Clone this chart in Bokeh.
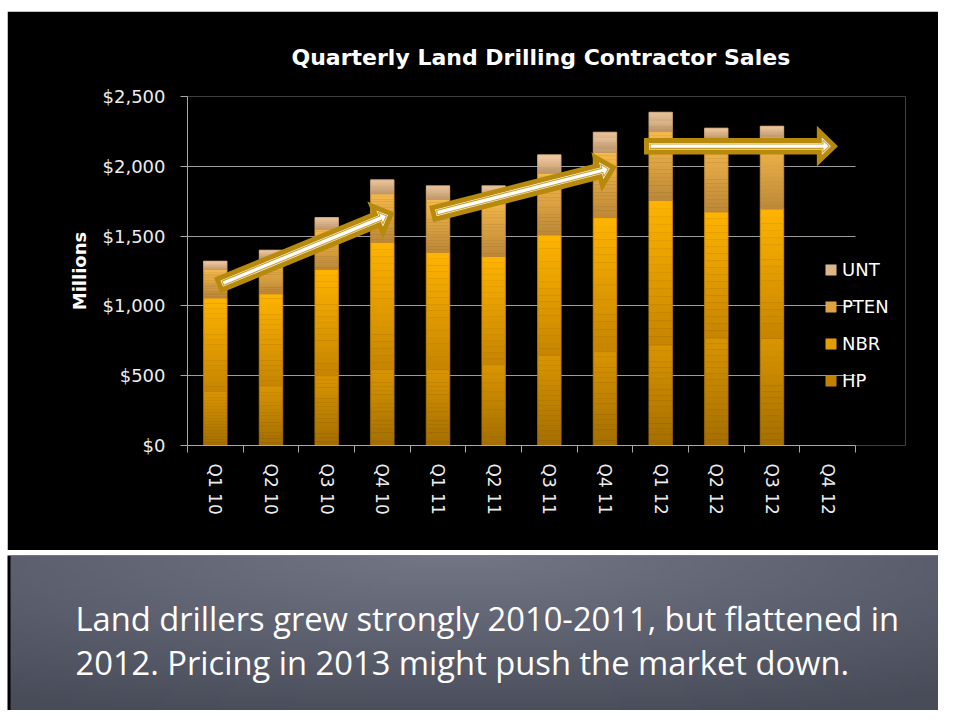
import numpy as np
from bokeh.plotting import figure
from bokeh.models import (Range1d, FixedTicker, NumeralTickFormatter, Legend, LegendItem,
                          ColumnDataSource, Title, BoxAnnotation, Spacer)
from bokeh.layouts import column, row
from bokeh.embed import file_html
from bokeh.resources import INLINE
from bokeh.core.properties import value

# ---------------- data ----------------
quarters = ["Q1 10", "Q2 10", "Q3 10", "Q4 10", "Q1 11", "Q2 11", "Q3 11", "Q4 11",
            "Q1 12", "Q2 12", "Q3 12", "Q4 12"]
series_names = ["HP", "NBR", "PTEN", "UNT"]
hp   = [387, 428, 501, 544, 544, 580, 645, 673, 721, 771, 769]
nbr  = [670, 659, 760, 912, 841, 774, 864, 960, 1034, 903, 926]
pten = [204, 253, 286, 347, 379, 416, 441, 468, 494, 526, 515]
unt  = [59, 59, 86, 100, 96, 90, 132, 143, 138, 73, 77]
y_ticks = [0, 500, 1000, 1500, 2000, 2500]

# trend arrows: (start quarter position, start value, end quarter position, end value)
arrow_x0 = [0.575, 4.42, 8.245]
arrow_y0 = [1153, 1662, 2144]
arrow_x1 = [3.66, 7.65, 11.62]
arrow_y1 = [1660, 1991, 2144]

title_text = "Quarterly Land Drilling Contractor Sales"
caption_lines = ["Land drillers grew strongly 2010-2011, but flattened in",
                 "2012.  Pricing in 2013 might push the market down."]

# ---------------- styling ----------------
FONT = "DejaVu Sans"
CFONT = "Open Sans"
W = 931
H1 = 539
H2 = 155
ML, MR, MT, MB = 180, 33, 85, 105
AXIS_W = 668                      # pixel width of the 12 quarters
FW = W - ML - MR
FH = H1 - MT - MB
NQ = len(quarters)
PXX = AXIS_W / NQ
PXY = FH / 2500.0
X_END = FW / PXX

grad = {  # (top colour, bottom colour)
    "HP":   ((0xDA, 0x95, 0x00), (0xA3, 0x6E, 0x00)),
    "NBR":  ((0xFF, 0xB4, 0x00), (0xC5, 0x84, 0x00)),
    "PTEN": ((0xF8, 0xBA, 0x4C), (0xBC, 0x88, 0x38)),
    "UNT":  ((0xF3, 0xCB, 0xA3), (0xC4, 0x9C, 0x6E)),
}

p = figure(width=W, height=H1, output_backend="svg", toolbar_location=None,
           x_range=Range1d(0, X_END), y_range=Range1d(0, 2500),
           background_fill_color="black", border_fill_color="black",
           outline_line_color="black", outline_line_alpha=0, outline_line_width=0,
           min_border_left=ML, min_border_right=MR, min_border_top=MT, min_border_bottom=MB)
p.title = Title(text=title_text, align="left", offset=104, standoff=53,
                text_color="white", text_font=FONT, text_font_size="22px", text_font_style="bold")

# grid lines only across the 12 quarters (legend area stays clear)
try:
    p.ygrid.cross_bounds = (0, NQ)
except Exception:
    p.add_layout(BoxAnnotation(left=NQ, fill_color="black", fill_alpha=1,
                               line_color="black", line_alpha=1, line_width=3, level="underlay"))

n = len(hp)
xs = np.arange(n) + 0.5
base = np.zeros(n)
N = 18
legend_items = []
for name, vals in zip(series_names, [hp, nbr, pten, unt]):
    vals = np.array(vals, dtype=float)
    top_c, bot_c = grad[name]
    rx, rb, rt, rc = [], [], [], []
    for k in range(N):
        f = (k + 0.5) / N
        c = tuple(int(round(bot_c[i] + (top_c[i] - bot_c[i]) * f)) for i in range(3))
        col = "#%02x%02x%02x" % c
        for j in range(n):
            rx.append(xs[j])
            rb.append(base[j] + vals[j] * k / N)
            rt.append(base[j] + vals[j] * (k + 1) / N)
            rc.append(col)
    src = ColumnDataSource(dict(x=rx, bottom=rb, top=rt, color=rc))
    r = p.vbar(x="x", bottom="bottom", top="top", width=0.42, source=src,
               fill_color="color", line_color="color", line_width=0.6)
    p.vbar(x=xs, bottom=base, top=base + vals, width=0.42, fill_alpha=0,
           line_color="#%02x%02x%02x" % bot_c, line_alpha=0.5, line_width=1)
    legend_items.append(LegendItem(label=name, renderers=[r], index=(N // 2) * n))
    base = base + vals

# arrows
def arrow_poly(tx, ty, hx, hy, s, h, L):
    dx, dy = hx - tx, hy - ty
    d = np.hypot(dx, dy)
    ux, uy = dx / d, dy / d
    nx, ny = -uy, ux
    bx, by = hx - ux * L, hy - uy * L
    return [(tx + nx * s, ty + ny * s), (bx + nx * s, by + ny * s), (bx + nx * h, by + ny * h),
            (hx, hy), (bx - nx * h, by - ny * h), (bx - nx * s, by - ny * s), (tx - nx * s, ty - ny * s)]

def inset(pts, dist):
    pts = list(pts)
    area = sum(pts[i][0] * pts[(i + 1) % len(pts)][1] - pts[(i + 1) % len(pts)][0] * pts[i][1]
               for i in range(len(pts)))
    if area < 0:
        pts = pts[::-1]
    m = len(pts)
    lines = []
    for i in range(m):
        x0, y0 = pts[i]
        x1, y1 = pts[(i + 1) % m]
        ex, ey = x1 - x0, y1 - y0
        l = np.hypot(ex, ey)
        inx, iny = -ey / l, ex / l
        lines.append(((x0 + inx * dist, y0 + iny * dist), (ex, ey)))
    out = []
    for i in range(m):
        (p1, d1) = lines[i - 1]
        (p2, d2) = lines[i]
        den = d1[0] * d2[1] - d1[1] * d2[0]
        t = ((p2[0] - p1[0]) * d2[1] - (p2[1] - p1[1]) * d2[0]) / den
        out.append((p1[0] + d1[0] * t, p1[1] + d1[1] * t))
    return out

GOLD = "#B88A0C"
for a in range(len(arrow_x0)):
    poly = arrow_poly(arrow_x0[a] * PXX, arrow_y0[a] * PXY, arrow_x1[a] * PXX, arrow_y1[a] * PXY,
                      5.8, 14.5, 15)
    p.patch([q[0] / PXX for q in poly], [q[1] / PXY for q in poly],
            fill_color="white", line_color=GOLD, line_width=5, line_join="miter")
    inner = inset(poly, 3.6)
    p.patch([q[0] / PXX for q in inner], [q[1] / PXY for q in inner],
            fill_alpha=0, line_color="#C9A030", line_width=1.1, line_join="miter")

# axes
p.xgrid.visible = False
p.ygrid.grid_line_color = "#9C9C9C"
p.ygrid.grid_line_width = 1
p.yaxis.ticker = FixedTicker(ticks=y_ticks)
p.yaxis.formatter = NumeralTickFormatter(format="$0,0")
p.yaxis.axis_line_color = "#A8A8A8"
p.yaxis.major_tick_line_color = "#A8A8A8"
p.yaxis.major_tick_out = 7
p.yaxis.major_tick_in = 0
p.yaxis.minor_tick_line_color = None
p.yaxis.major_label_text_color = "#EDEDED"
p.yaxis.major_label_text_font = FONT
p.yaxis.major_label_text_font_size = "18px"
p.yaxis.major_label_standoff = 15
p.yaxis.axis_label = "Millions"
p.yaxis.axis_label_text_color = "white"
p.yaxis.axis_label_text_font = FONT
p.yaxis.axis_label_text_font_size = "18px"
p.yaxis.axis_label_text_font_style = "bold"
p.yaxis.axis_label_standoff = 10

p.xaxis.bounds = (0, NQ)
p.xaxis.ticker = FixedTicker(ticks=list(np.arange(NQ) + 0.5), minor_ticks=list(range(NQ + 1)))
p.xaxis.major_label_overrides = {float(i + 0.5): q for i, q in enumerate(quarters)}
p.xaxis.major_label_orientation = -np.pi / 2
p.xaxis.axis_line_color = "#A8A8A8"
p.xaxis.major_tick_line_color = None
p.xaxis.minor_tick_line_color = "#A8A8A8"
p.xaxis.minor_tick_out = 7
p.xaxis.minor_tick_in = 0
p.xaxis.major_label_text_color = "#EDEDED"
p.xaxis.major_label_text_font = FONT
p.xaxis.major_label_text_font_size = "17px"
p.xaxis.major_label_standoff = 11

legend = Legend(items=legend_items[::-1], location=(637, 54), orientation="vertical",
                background_fill_alpha=0, border_line_alpha=0, padding=0, margin=0,
                glyph_width=13, glyph_height=13, label_height=20, spacing=16,
                label_text_color="white", label_text_font=FONT, label_text_font_size="18px",
                label_standoff=5)
p.add_layout(legend, "center")

# caption panel
q = figure(width=W, height=H2, output_backend="svg", toolbar_location=None,
           x_range=Range1d(0, W), y_range=Range1d(0, H2), min_border=0,
           min_border_left=0, min_border_right=0, min_border_top=0, min_border_bottom=0,
           background_fill_color="black", border_fill_color="black",
           outline_line_color=None)
q.axis.visible = False
q.grid.visible = False
gx, gy = np.meshgrid(np.linspace(0, 1, 120), np.linspace(0, 1, 40))
dist = np.sqrt(((gx - 0.48) * 1.2) ** 2 + ((1 - gy) * 1.0) ** 2)
t = np.clip(dist / 1.1, 0, 1)
c0 = np.array([0x73, 0x76, 0x85])
c1 = np.array([0x48, 0x4B, 0x58])
img = np.empty(gx.shape, dtype=np.uint32)
view = img.view(dtype=np.uint8).reshape(gx.shape + (4,))
for i in range(3):
    view[..., i] = (c0[i] + (c1[i] - c0[i]) * t).astype(np.uint8)
view[..., 3] = 255
q.image_rgba(image=[img], x=3, y=0, dw=W - 3, dh=H2)
q.text(x=[68, 68], y=[H2 - 63, H2 - 107], text=caption_lines, text_color="white",
       text_font=value(CFONT), text_font_size="32.7px", text_baseline="alphabetic")

layout = row(Spacer(width=7, height=710),
             column(Spacer(height=11, width=W), p, Spacer(height=5, width=W), row(q), spacing=0),
             spacing=0)
open("out.html", "w").write(file_html(layout, INLINE))
